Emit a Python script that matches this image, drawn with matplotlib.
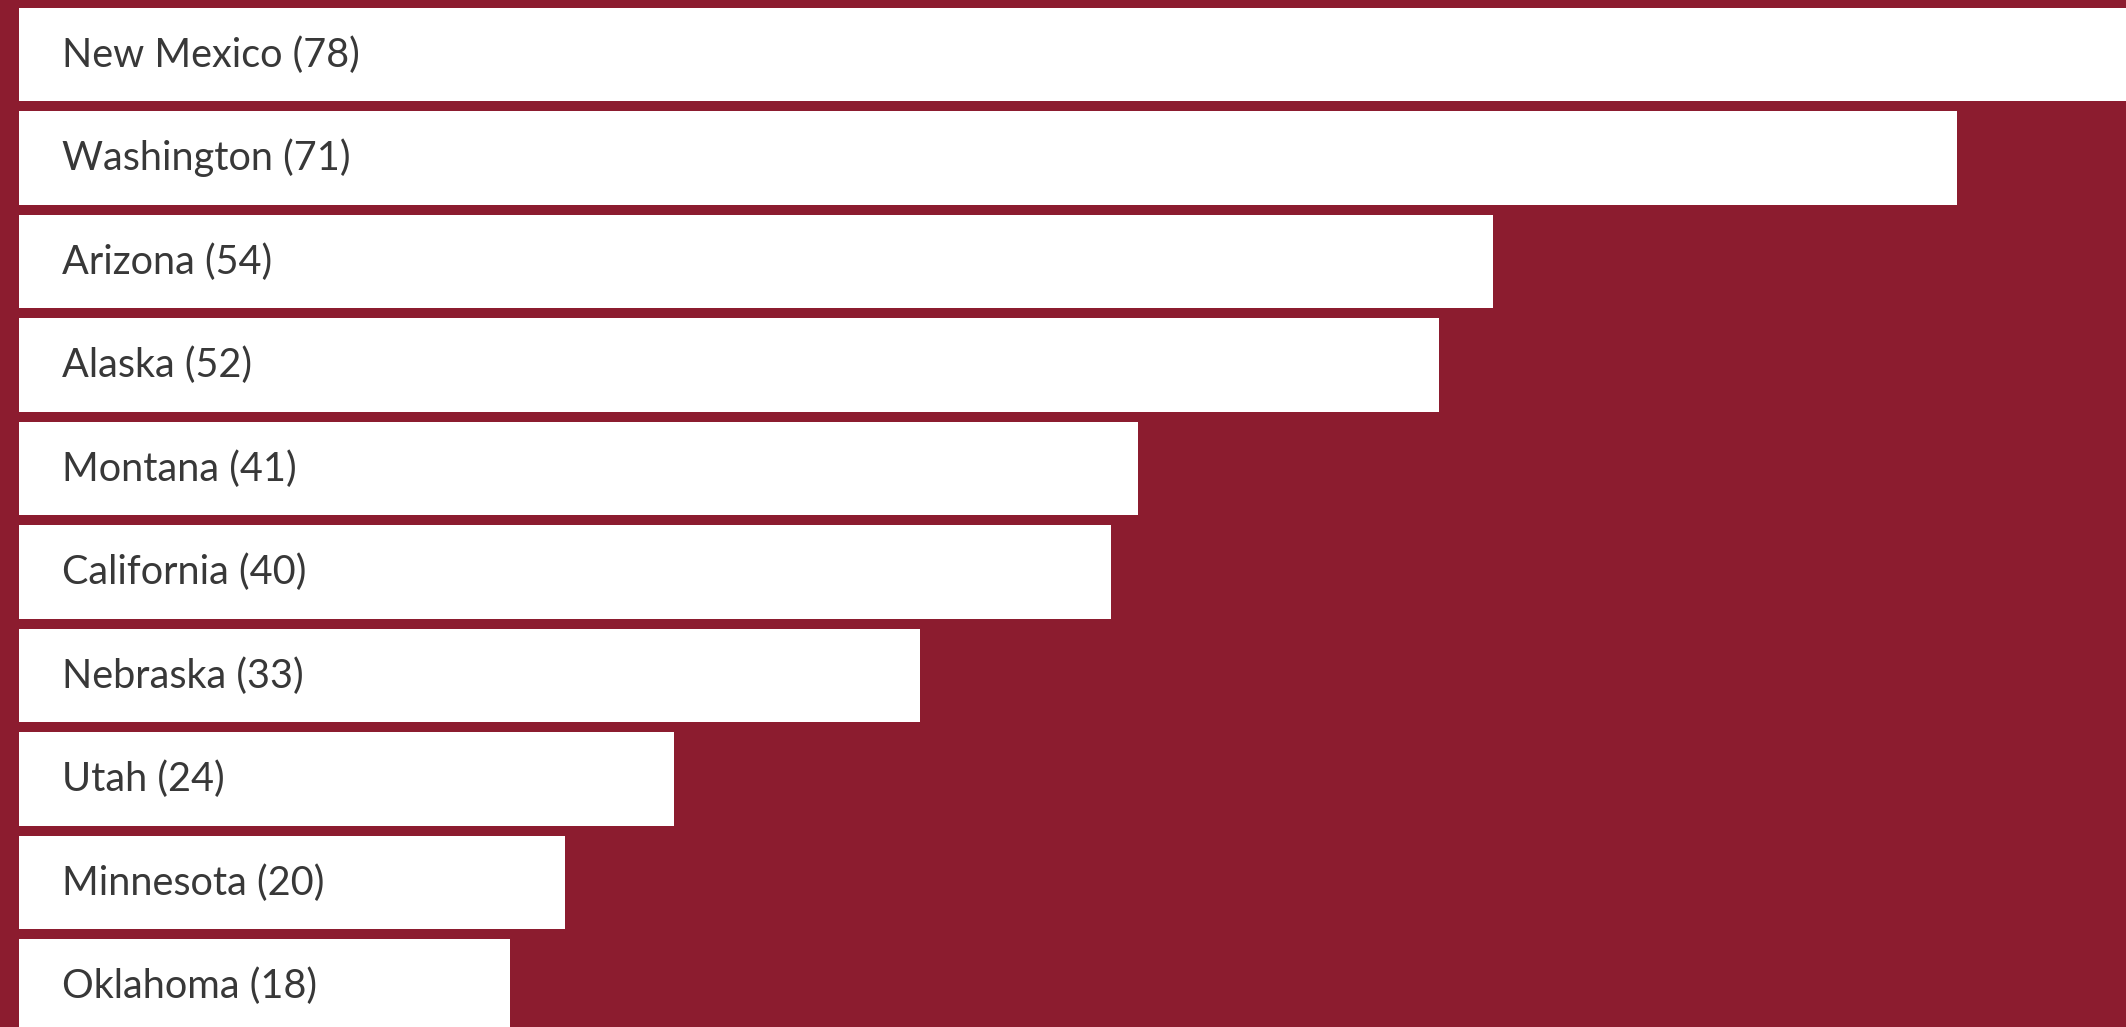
import matplotlib
matplotlib.use("Agg")
import matplotlib.pyplot as plt

states = ['New Mexico', 'Washington', 'Arizona', 'Alaska', 'Montana',
          'California', 'Nebraska', 'Utah', 'Minnesota', 'Oklahoma']
counts = [78, 71, 54, 52, 41, 40, 33, 24, 20, 18]

bg = '#8c1c2f'

fig = plt.figure(figsize=(21.26, 10.27), dpi=100, facecolor=bg)
ax = fig.add_axes([0, 0, 1, 1])
ax.set_facecolor(bg)

ypos = list(range(len(states)))
ax.barh(ypos, counts, height=0.9, color='white', left=0)

for y, s, c in zip(ypos, states, counts):
    ax.text(1.575, y + 0.116, f'{s} ({c})', fontsize=28.5, family='Lato',
            color='#383838', va='baseline', ha='left')

# bars are cropped at the right and bottom like the original
ax.set_xlim(-0.696, 77.18)
ax.set_ylim(9.396, -0.527)
ax.axis('off')

fig.savefig('out.png', dpi=100, facecolor=bg)
